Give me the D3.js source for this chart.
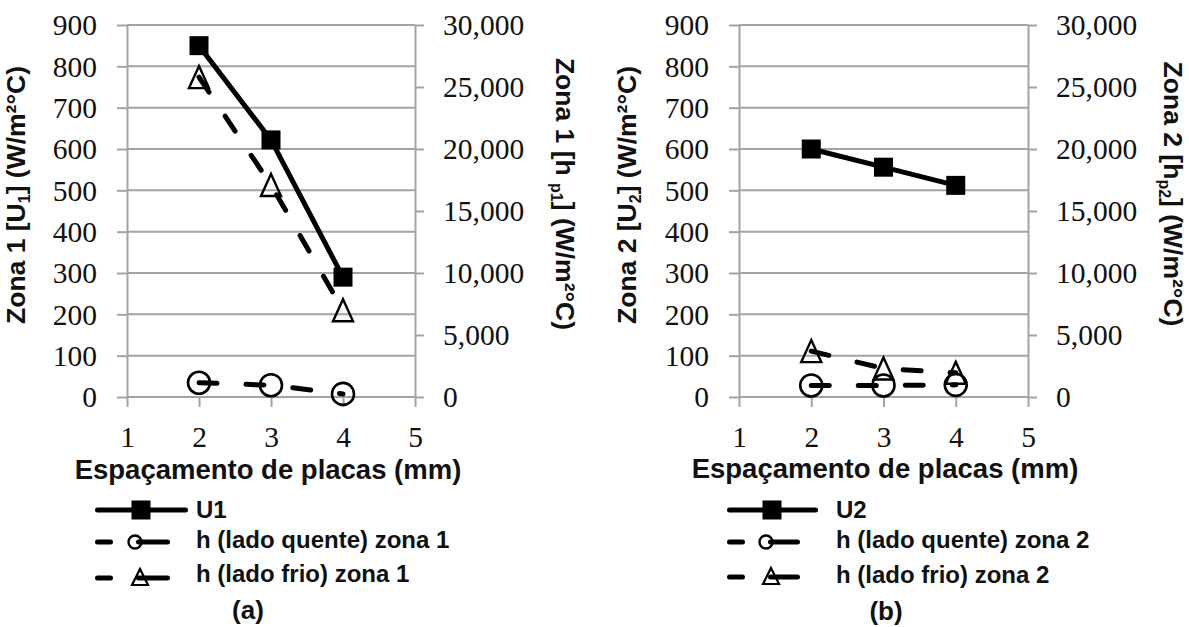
<!DOCTYPE html>
<html>
<head>
<meta charset="utf-8">
<script src="https://cdn.jsdelivr.net/npm/d3@7"></script>
<style>
  body { margin: 0; background: #fff; }
  svg { display: block; }
</style>
</head>
<body>
<script>
// Plate spacing (mm) where each configuration was evaluated
const spacing = [2, 3, 4];
const xTickValues = [1, 2, 3, 4, 5];
const uTickValues = [0, 100, 200, 300, 400, 500, 600, 700, 800, 900];
const hTickValues = [0, 5000, 10000, 15000, 20000, 25000, 30000];

// Zone 1: overall coefficient (left axis) and plate-side coefficients (right axis)
const u1 = [850, 622, 290];
const hHot1 = [1150, 950, 250];
const hCold1 = [25800, 17100, 7000];

// Zone 2
const u2 = [600, 556, 512];
const hHot2 = [930, 930, 980];
const hCold2 = [3700, 2300, 1950];

const legend1 = ["U1", "h (lado quente) zona 1", "h (lado frio) zona 1"];
const legend2 = ["U2", "h (lado quente) zona 2", "h (lado frio) zona 2"];

const W = 1189, H = 627;
const serif = "'Liberation Serif', 'Times New Roman', serif";
const sans = "'Liberation Sans', Arial, sans-serif";
const gridColor = "#a3a3a3";

const svg = d3.select("body").append("svg").attr("width", W).attr("height", H);

const panels = [
  {
    u: u1, hot: hHot1, cold: hCold1, legend: legend1,
    x0: 127, x1: 415,
    leftTitleX: 25, rightTitleX: 556,
    leftTitle: [["Zona 1 [U", 0], ["1", 1], ["] (W/m²°C)", 0]],
    rightTitle: [["Zona 1 [h ", 0], ["p1", 1], ["] (W/m²°C)", 0]],
    xTitleX: 268, xTitleY: 479,
    legX: 95, legEnd: 188, legDashEnd: 170, legMarkX: 141, legTextX: 196,
    legRows: [510, 542, 578], legText: [518, 548, 582],
    tag: "(a)", tagX: 248, tagY: 619
  },
  {
    u: u2, hot: hHot2, cold: hCold2, legend: legend2,
    x0: 739, x1: 1028,
    leftTitleX: 636, rightTitleX: 1164,
    leftTitle: [["Zona 2 [U", 0], ["2", 1], ["] (W/m²°C)", 0]],
    rightTitle: [["Zona 2 [h", 0], ["p2", 1], ["] (W/m²°C)", 0]],
    xTitleX: 885, xTitleY: 478,
    legX: 727, legEnd: 818, legDashEnd: 800, legMarkX: 772, legTextX: 836,
    legRows: [510, 542, 577], legText: [518, 548, 583],
    tag: "(b)", tagX: 886, tagY: 620
  }
];

const triPath = (w, h) => `M0,${-h}L${w},${h}L${-w},${h}Z`;

function styleAxis(sel) {
  sel.select(".domain").attr("stroke", gridColor).attr("stroke-width", 2);
  sel.selectAll(".tick line").attr("stroke", gridColor).attr("stroke-width", 2);
  sel.selectAll("text")
    .attr("fill", "#111")
    .style("font-family", serif)
    .style("font-size", "29.5px");
}

function addTitle(g, x, y, angle, parts) {
  const t = g.append("text")
    .attr("transform", `translate(${x},${y}) rotate(${angle})`)
    .attr("text-anchor", "middle")
    .attr("dy", "0.36em")
    .style("font-family", sans)
    .style("font-weight", "bold")
    .style("font-size", "26.5px")
    .attr("fill", "#111");
  let shift = 0;
  parts.forEach(([txt, sub]) => {
    const target = sub ? 5 : 0;
    t.append("tspan")
      .attr("dy", target - shift)
      .style("font-size", sub ? "16px" : "26.5px")
      .text(txt);
    shift = target;
  });
}

panels.forEach(p => {
  const x = d3.scaleLinear().domain([1, 5]).range([p.x0, p.x1]);
  const yU = d3.scaleLinear().domain([0, 900]).range([397, 25]);
  const yH = d3.scaleLinear().domain([0, 30000]).range([397, 25]);
  const g = svg.append("g");

  // horizontal gridlines on the U scale
  g.append("g").selectAll("line").data(uTickValues).join("line")
    .attr("x1", p.x0).attr("x2", p.x1)
    .attr("y1", d => yU(d)).attr("y2", d => yU(d))
    .attr("stroke", gridColor).attr("stroke-width", 2);

  // left axis (U)
  const la = g.append("g").attr("transform", `translate(${p.x0},0)`)
    .call(d3.axisLeft(yU).tickValues(uTickValues).tickSize(10).tickSizeOuter(0).tickPadding(20));
  styleAxis(la);
  la.selectAll("text").attr("dy", "0.33em");

  // right axis (h)
  const ra = g.append("g").attr("transform", `translate(${p.x1},0)`)
    .call(d3.axisRight(yH).tickValues(hTickValues).tickSize(9).tickSizeOuter(0).tickPadding(19)
      .tickFormat(d3.format(",")));
  styleAxis(ra);
  ra.selectAll("text").attr("dy", "0.33em");

  // bottom axis: tick marks and labels
  const ba = g.append("g").attr("transform", "translate(0,397)")
    .call(d3.axisBottom(x).tickValues(xTickValues).tickSize(10).tickSizeOuter(0)
      .tickFormat(d3.format("d")));
  styleAxis(ba);
  ba.select(".domain").remove();
  ba.selectAll("text").attr("y", 50).attr("dy", 0);

  // axis titles
  addTitle(g, p.leftTitleX, 195, -90, p.leftTitle);
  addTitle(g, p.rightTitleX, 194, 90, p.rightTitle);

  g.append("text")
    .attr("x", p.xTitleX).attr("y", p.xTitleY)
    .attr("text-anchor", "middle")
    .style("font-family", sans).style("font-weight", "bold").style("font-size", "27.5px")
    .attr("fill", "#111")
    .text("Espaçamento de placas (mm)");

  // series
  const pts = (vals) => spacing.map((s, i) => ({ x: s, v: vals[i] }));
  const lineU = d3.line().x(d => x(d.x)).y(d => yU(d.v));
  const lineH = d3.line().x(d => x(d.x)).y(d => yH(d.v));

  // U: solid line with filled squares
  g.append("path").datum(pts(p.u)).attr("d", lineU)
    .attr("fill", "none").attr("stroke", "#000").attr("stroke-width", 5)
    .attr("stroke-linejoin", "round");
  g.append("g").selectAll("rect").data(pts(p.u)).join("rect")
    .attr("x", d => x(d.x) - 9.5).attr("y", d => yU(d.v) - 9.5)
    .attr("width", 19).attr("height", 19).attr("fill", "#000");

  // hot side: dashed line with hollow circles
  g.append("path").datum(pts(p.hot)).attr("d", lineH)
    .attr("fill", "none").attr("stroke", "#000").attr("stroke-width", 5)
    .attr("stroke-dasharray", "18,29").attr("stroke-linecap", "round");
  g.append("g").selectAll("circle").data(pts(p.hot)).join("circle")
    .attr("cx", d => x(d.x)).attr("cy", d => yH(d.v)).attr("r", 11)
    .attr("fill", "none").attr("stroke", "#000").attr("stroke-width", 2.6);

  // cold side: dashed line with hollow triangles
  g.append("path").datum(pts(p.cold)).attr("d", lineH)
    .attr("fill", "none").attr("stroke", "#000").attr("stroke-width", 5)
    .attr("stroke-dasharray", "18,29").attr("stroke-linecap", "round");
  g.append("g").selectAll("path").data(pts(p.cold)).join("path")
    .attr("transform", d => `translate(${x(d.x)},${yH(d.v)})`)
    .attr("d", triPath(10, 11))
    .attr("fill", "none").attr("stroke", "#000").attr("stroke-width", 2.4);

  // legend
  const lg = g.append("g");
  const [r0, r1, r2] = p.legRows;
  lg.append("line").attr("x1", p.legX + 2.5).attr("x2", p.legEnd - 2.5).attr("y1", r0).attr("y2", r0)
    .attr("stroke", "#000").attr("stroke-width", 5).attr("stroke-linecap", "round");
  lg.append("rect").attr("x", p.legMarkX - 9.5).attr("y", r0 - 9.5).attr("width", 19).attr("height", 19).attr("fill", "#000");

  [r1, r2].forEach(ry => {
    lg.append("line").attr("x1", p.legX + 2.5).attr("x2", p.legDashEnd - 2.5).attr("y1", ry).attr("y2", ry)
      .attr("stroke", "#000").attr("stroke-width", 5).attr("stroke-linecap", "round")
      .attr("stroke-dasharray", "13,28,40");
  });
  lg.append("circle").attr("cx", p.legMarkX - 6).attr("cy", r1).attr("r", 6.5)
    .attr("fill", "none").attr("stroke", "#000").attr("stroke-width", 2.4);
  lg.append("path").attr("transform", `translate(${p.legMarkX - 1},${r2 - 1})`).attr("d", triPath(8, 8))
    .attr("fill", "none").attr("stroke", "#000").attr("stroke-width", 2.2);

  lg.selectAll("text.leg").data(p.legend).join("text")
    .attr("class", "leg")
    .attr("x", p.legTextX)
    .attr("y", (d, i) => p.legText[i])
    .style("font-family", sans).style("font-weight", "bold").style("font-size", "24px")
    .attr("fill", "#111")
    .text(d => d);

  g.append("text").attr("x", p.tagX).attr("y", p.tagY).attr("text-anchor", "middle")
    .style("font-family", sans).style("font-weight", "bold").style("font-size", "26px")
    .attr("fill", "#111")
    .text(p.tag);
});
</script>
</body>
</html>
